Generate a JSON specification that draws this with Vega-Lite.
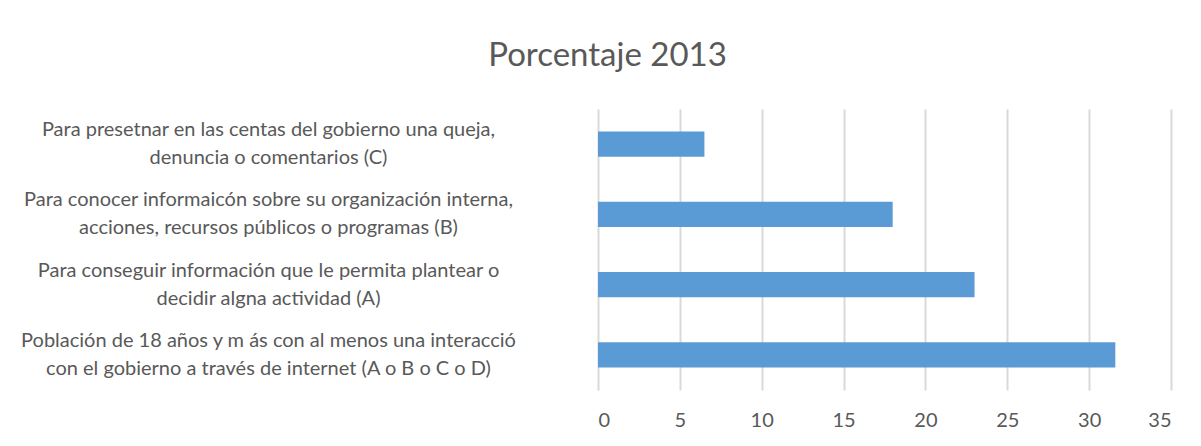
{
  "$schema": "https://vega.github.io/schema/vega-lite/v6.json",
  "width": 573,
  "height": 281,
  "autosize": {"type": "none"},
  "padding": {"left": 598, "top": 109, "right": 30, "bottom": 56},
  "background": "white",
  "title": {
    "text": "Porcentaje 2013",
    "font": "Lato",
    "fontSize": 33,
    "fontWeight": "normal",
    "color": "#595959",
    "anchor": "middle",
    "dx": -277,
    "offset": 36
  },
  "data": {
    "values": [
      {"categoria": "Para presetnar en las centas del gobierno una queja,|denuncia o comentarios (C)", "valor": 6.5},
      {"categoria": "Para conocer informaicón sobre su organización interna,|acciones, recursos públicos o programas (B)", "valor": 18.0},
      {"categoria": "Para conseguir información que le permita plantear o|decidir algna actividad (A)", "valor": 23.0},
      {"categoria": "Población de 18 años y m ás con al menos una interacció|con el gobierno a través de internet (A  o B o C o D)", "valor": 31.6}
    ]
  },
  "mark": {"type": "bar", "color": "#5B9BD5"},
  "encoding": {
    "y": {
      "field": "categoria",
      "type": "nominal",
      "sort": null,
      "scale": {"paddingInner": 0.643, "paddingOuter": 0.3215},
      "axis": {
        "title": null,
        "domain": false,
        "ticks": false,
        "grid": false,
        "labelExpr": "split(datum.label, '|')",
        "labelAlign": "center",
        "labelBaseline": "middle",
        "labelPadding": 330,
        "labelOffset": -14,
        "labelLineHeight": 28,
        "labelFont": "Lato",
        "labelFontSize": 20,
        "labelColor": "#595959",
        "labelLimit": 0,
        "encode": {
          "labels": {
            "enter": {
              "dx": {"signal": "indexOf(datum.value, '(C)') >= 0 ? 8 : (indexOf(datum.value, '(B)') >= 0 ? -6 : (indexOf(datum.value, '(A)') >= 0 ? 7 : -7))"}
            },
            "update": {
              "dx": {"signal": "indexOf(datum.value, '(C)') >= 0 ? 8 : (indexOf(datum.value, '(B)') >= 0 ? -6 : (indexOf(datum.value, '(A)') >= 0 ? 7 : -7))"}
            }
          }
        }
      }
    },
    "x": {
      "field": "valor",
      "type": "quantitative",
      "scale": {"domain": [0, 35], "nice": false},
      "axis": {
        "title": null,
        "values": [0, 5, 10, 15, 20, 25, 30, 35],
        "domain": false,
        "ticks": false,
        "grid": true,
        "gridColor": "#D9D9D9",
        "gridWidth": 2,
        "labelPadding": 20,
        "labelFont": "Lato",
        "labelFontSize": 20,
        "labelColor": "#595959"
      }
    }
  },
  "config": {"view": {"stroke": null}}
}
